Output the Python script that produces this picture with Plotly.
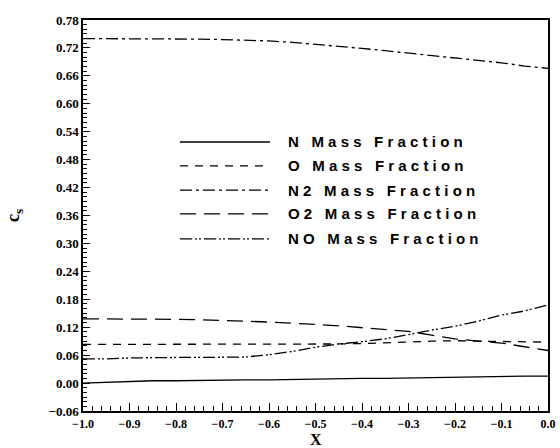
import plotly.graph_objects as go

# Position along the body
x = [-1.00, -0.95, -0.90, -0.85, -0.80, -0.75, -0.70, -0.65, -0.60, -0.55, -0.50,
     -0.45, -0.40, -0.35, -0.30, -0.25, -0.20, -0.15, -0.10, -0.05, 0.00]

# Species mass fractions
n_frac = [0.000, 0.002, 0.004, 0.005, 0.005, 0.006, 0.006, 0.007, 0.007, 0.008, 0.008,
          0.009, 0.010, 0.010, 0.011, 0.012, 0.013, 0.014, 0.014, 0.015, 0.015]
o_frac = [0.083, 0.083, 0.083, 0.083, 0.083, 0.083, 0.083, 0.083, 0.083, 0.083, 0.083,
          0.084, 0.085, 0.086, 0.088, 0.090, 0.091, 0.090, 0.089, 0.088, 0.088]
n2_frac = [0.740, 0.740, 0.740, 0.740, 0.740, 0.739, 0.738, 0.737, 0.735, 0.732, 0.728,
           0.723, 0.719, 0.714, 0.709, 0.704, 0.698, 0.693, 0.688, 0.681, 0.676]
o2_frac = [0.138, 0.138, 0.138, 0.138, 0.137, 0.136, 0.135, 0.133, 0.131, 0.129, 0.126,
           0.123, 0.119, 0.115, 0.111, 0.103, 0.095, 0.090, 0.086, 0.078, 0.070]
no_frac = [0.052, 0.052, 0.054, 0.055, 0.055, 0.055, 0.055, 0.056, 0.061, 0.068, 0.077,
           0.084, 0.089, 0.095, 0.104, 0.114, 0.122, 0.133, 0.146, 0.155, 0.168]

series_names = ["N Mass Fraction", "O Mass Fraction", "N2 Mass Fraction",
                "O2 Mass Fraction", "NO Mass Fraction"]
series_values = [n_frac, o_frac, n2_frac, o2_frac, no_frac]
dashes = ["solid", "8px,7px", "12px,4px,3px,4px", "16px,8px",
          "12px,3px,2px,2px,2px,3px"]

fig = go.Figure()
for name, vals, dash in zip(series_names, series_values, dashes):
    fig.add_trace(go.Scatter(x=x, y=vals, mode="lines", name=name,
                             line=dict(color="black", width=1.3, dash=dash),
                             showlegend=False))

# Hand-drawn key inside the plot area
key_rows = [0.688, 0.627, 0.565, 0.504, 0.440]
for name, dash, yy in zip(series_names, dashes, key_rows):
    fig.add_shape(type="line", xref="paper", yref="paper",
                  x0=0.2086, x1=0.402, y0=yy, y1=yy,
                  line=dict(color="black", width=1.3, dash=dash))
    fig.add_annotation(xref="paper", yref="paper", x=0.4366, y=yy,
                       xanchor="left", yanchor="middle", showarrow=False,
                       text='<span style="letter-spacing:4.2px">' + name + '</span>',
                       font=dict(family="Liberation Sans", size=15, color="black",
                                 weight="bold"))

# X-axis title placed below the tick labels
fig.add_annotation(xref="paper", yref="paper", x=0.5, y=-0.096,
                   xanchor="center", yanchor="bottom", showarrow=False,
                   borderpad=0,
                   text="X", font=dict(family="Liberation Serif", size=16,
                                       color="black", weight="bold"))

x_tick_font = dict(family="Liberation Serif", size=12, color="black", weight="bold")
y_tick_font = dict(family="Liberation Serif", size=13, color="black", weight="bold")

fig.update_xaxes(range=[-1.0, 0.0], dtick=0.1, tick0=-1.0, tickformat=".1f",
                 ticks="inside", ticklen=8, tickwidth=1, tickcolor="black",
                 minor=dict(dtick=0.02, ticks="inside", ticklen=5, tickcolor="black"),
                 showline=True, linecolor="black", linewidth=1.5, mirror=True,
                 showgrid=False, zeroline=False, tickfont=x_tick_font,
                 ticklabelstandoff=1, automargin=False)
fig.update_yaxes(range=[-0.06, 0.78], dtick=0.06, tick0=-0.06, tickformat=".2f",
                 ticks="inside", ticklen=7, tickwidth=1, tickcolor="black",
                 minor=dict(dtick=0.01, ticks="inside", ticklen=4, tickcolor="black"),
                 showline=True, linecolor="black", linewidth=1.5, mirror=True,
                 showgrid=False, zeroline=False, tickfont=y_tick_font,
                 automargin=False,
                 title=dict(text="c<sub>s</sub>", standoff=24,
                            font=dict(family="Liberation Serif", size=19,
                                      color="black", weight="bold")))

fig.update_layout(width=560, height=448,
                  margin=dict(l=83, r=12, t=20, b=37),
                  paper_bgcolor="white", plot_bgcolor="white")

fig.write_html("out.html")
